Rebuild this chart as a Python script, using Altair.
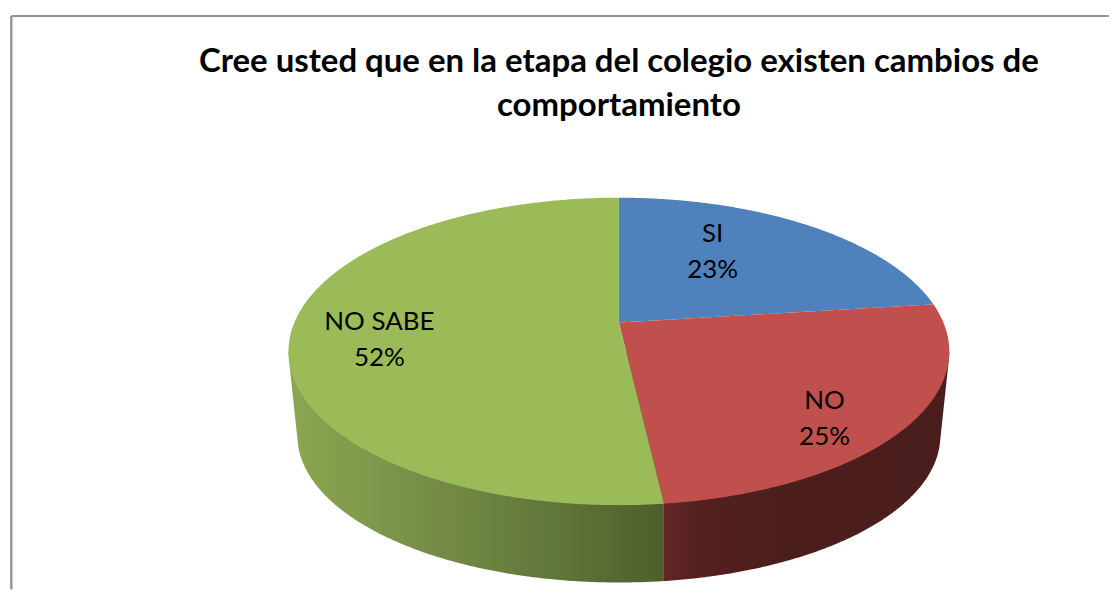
import numpy as np
import pandas as pd
import altair as alt

# Values
categories = ["SI", "NO", "NO  SABE"]
values = [23.0, 25.2, 51.8]
labels_pct = ["23%", "25%", "52%"]
top_colors = ["#4f81bd", "#c0504d", "#9bbb59"]
title_lines = ["Cree usted que en la etapa del colegio existen cambios de", "comportamiento"]

# Reference-pixel frame of the drawing
X0, X1, Y0, Y1 = 8, 1111, 8, 590
CX, TOP_CY, TOP_RX, TOP_RY = 620.0, 351.5, 331.0, 154.0
LOW_CY, LOW_RX, LOW_RY = 436.0, 322.0, 147.0
E = 0.188  # perspective shift of the pie centre


def project(theta, cy, rx, ry):
    """Clockwise angle from 12 o'clock on the disc -> tilted, perspective ellipse."""
    u, v = np.sin(theta), np.cos(theta)
    d = 1 + E * v
    return CX + rx * u * np.sqrt(1 - E * E) / d, cy - ry * (v + E) / d


def intervals(px, py, name):
    """Vertical-interval form of a closed polygon for an area mark."""
    xs = np.unique(np.concatenate([px - 1e-6, px + 1e-6]))
    xs = xs[(xs > px.min()) & (xs < px.max())]
    qx, qy = np.roll(px, -1), np.roll(py, -1)
    rows = []
    for x in xs:
        hit = (px - x) * (qx - x) < 0
        ys = py[hit] + (x - px[hit]) * (qy[hit] - py[hit]) / (qx[hit] - px[hit])
        if len(ys):
            rows.append(dict(s=name, x=float(x), y=float(ys.min()), y2=float(ys.max())))
    return rows


# Upper faces
cum = np.cumsum([0.0] + values) / sum(values) * 2 * np.pi
top_rows = []
for k, name in enumerate(categories):
    th = np.linspace(cum[k], cum[k + 1], 240)
    rx_, ry_ = project(th, TOP_CY, TOP_RX, TOP_RY)
    ox, oy = CX, TOP_CY - TOP_RY * E  # image of the disc's centre
    top_rows += intervals(np.r_[ox, rx_], np.r_[oy, ry_], name)
top_df = pd.DataFrame(top_rows)

# Side wall: lower chain of the hull of the top and bottom ellipses
t = np.linspace(0, 2 * np.pi, 720, endpoint=False)
pts = np.vstack([
    np.c_[CX + TOP_RX * np.cos(t), TOP_CY + TOP_RY * np.sin(t)],
    np.c_[CX + LOW_RX * np.cos(t), LOW_CY + LOW_RY * np.sin(t)],
])
pts = pts[np.argsort(pts[:, 0])]
chain = []
for p in pts:
    while len(chain) >= 2:
        a, b = chain[-2], chain[-1]
        if (b[0] - a[0]) * (p[1] - a[1]) - (b[1] - a[1]) * (p[0] - a[0]) >= 0:
            chain.pop()
        else:
            break
    chain.append(p)
chain = np.array(chain)
split_x = project(np.array([cum[2]]), TOP_CY, TOP_RX, TOP_RY)[0][0]
grid = np.unique(np.r_[chain[:, 0], split_x])
low = np.interp(grid, chain[:, 0], chain[:, 1])
wall = pd.DataFrame({"x": grid, "y": TOP_CY, "y2": low})
wall_green = wall[wall.x <= split_x]
wall_red = wall[wall.x >= split_x]

xs = alt.Scale(domain=[X0, X1], nice=False, zero=False)
ys = alt.Scale(domain=[Y1, Y0], nice=False, zero=False)
X = alt.X("x:Q", scale=xs, axis=None)
Y = alt.Y("y:Q", scale=ys, axis=None)
Y2 = alt.Y2("y2")


def grad(stops):
    return alt.Gradient(
        gradient="linear", x1=0, x2=1, y1=0, y2=0,
        stops=[alt.GradientStop(offset=o, color=c) for o, c in stops],
    )


green_wall = alt.Chart(wall_green).mark_area(
    color=grad([(0, "#8ba751"), (0.35, "#788f47"), (0.7, "#61763a"), (1, "#4e5f2b")]), orient="vertical"
).encode(x=X, y=Y, y2=Y2)
red_wall = alt.Chart(wall_red).mark_area(
    color=grad([(0, "#632725"), (0.12, "#54201f"), (0.4, "#4b1e1c"), (1, "#4a1e1c")]), orient="vertical"
).encode(x=X, y=Y, y2=Y2)

top_layers = [
    alt.Chart(top_df[top_df.s == n]).mark_area(color=c, orient="vertical").encode(x=X, y=Y, y2=Y2)
    for n, c in zip(categories, top_colors)
]

frame_h = alt.Chart(pd.DataFrame({"x": [11.3], "x2": [X1], "y": [15.5]})).mark_rule(
    color="#969696", strokeWidth=2.2
).encode(x=X, x2="x2:Q", y=Y)
frame_v = alt.Chart(pd.DataFrame({"x": [11.3], "y": [15.5], "y2": [Y1]})).mark_rule(
    color="#969696", strokeWidth=2.4
).encode(x=X, y=Y, y2="y2:Q")

title_df = pd.DataFrame({"x": [620, 620], "y": [62, 106], "t": title_lines})
title = alt.Chart(title_df).mark_text(
    font="Lato", fontWeight="bold", fontSize=33, color="#000000", align="center", baseline="middle"
).encode(x=X, y=Y, text="t:N")

label_df = pd.DataFrame({
    "x": [714, 714, 826, 826, 380, 380],
    "y": [234, 270, 401, 437, 322, 358],
    "t": [categories[0], labels_pct[0], categories[1], labels_pct[1], categories[2], labels_pct[2]],
})
labels = alt.Chart(label_df).mark_text(
    font="Lato", fontSize=26, color="#000000", align="center", baseline="middle"
).encode(x=X, y=Y, text="t:N")

chart = alt.layer(
    frame_h, frame_v, green_wall, red_wall, *top_layers, title, labels
).properties(width=X1 - X0, height=Y1 - Y0, padding=0, background="#ffffff").configure_view(stroke=None)

chart.save("out.html", embed_options={"renderer": "svg", "actions": False})
